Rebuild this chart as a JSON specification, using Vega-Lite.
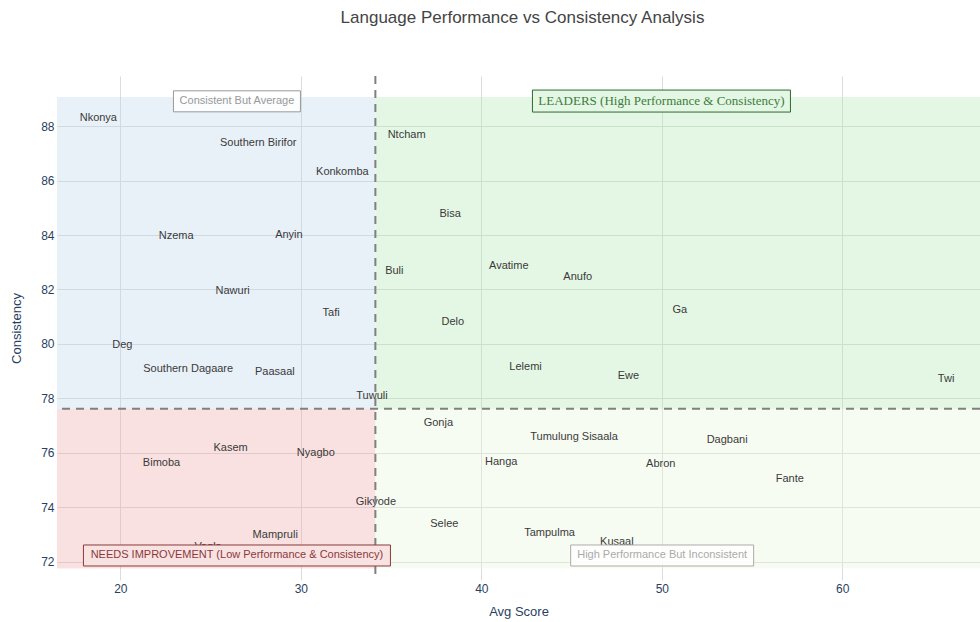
{
  "$schema": "https://vega.github.io/schema/vega-lite/v6.json",
  "width": 923,
  "height": 504,
  "autosize": {"type": "none"},
  "padding": {"left": 57, "top": 76, "right": 0, "bottom": 42},
  "background": "white",
  "title": {"text": "Language Performance vs Consistency Analysis", "font": "Liberation Sans", "fontSize": 17, "fontWeight": "normal", "color": "#444444", "anchor": "middle", "frame": "group", "offset": 48, "dx": 4},
  "config": {
    "view": {"stroke": null},
    "axis": {"grid": true, "gridColor": "#dcdcdc", "gridWidth": 1, "domain": false, "ticks": false, "labelFont": "Liberation Sans", "labelFontSize": 12, "labelColor": "#2a3f5f", "titleFont": "Liberation Sans", "titleFontSize": 13, "titleFontWeight": "normal", "titleColor": "#2a3f5f"}
  },
  "datasets": {
    "zones": [
      {"zone": "Consistent But Average", "x_min": 16.0, "x_max": 34.13, "y_min": 77.62, "y_max": 89.07},
      {"zone": "Leaders", "x_min": 34.13, "x_max": 68.5, "y_min": 77.62, "y_max": 89.07},
      {"zone": "Needs Improvement", "x_min": 16.0, "x_max": 34.13, "y_min": 71.75, "y_max": 77.62},
      {"zone": "High Performance But Inconsistent", "x_min": 34.13, "x_max": 68.5, "y_min": 71.75, "y_max": 77.62}
    ],
    "langs": [
      {"language": "Nkonya", "avg_score": 18.78, "consistency": 88.30},
      {"language": "Southern Birifor", "avg_score": 27.64, "consistency": 87.38},
      {"language": "Konkomba", "avg_score": 32.30, "consistency": 86.32},
      {"language": "Nzema", "avg_score": 23.09, "consistency": 83.98},
      {"language": "Anyin", "avg_score": 29.34, "consistency": 84.00},
      {"language": "Nawuri", "avg_score": 26.22, "consistency": 81.96},
      {"language": "Tafi", "avg_score": 31.68, "consistency": 81.12},
      {"language": "Deg", "avg_score": 20.11, "consistency": 79.96},
      {"language": "Southern Dagaare", "avg_score": 23.76, "consistency": 79.07},
      {"language": "Paasaal", "avg_score": 28.56, "consistency": 78.97},
      {"language": "Tuwuli", "avg_score": 33.94, "consistency": 78.07},
      {"language": "Ntcham", "avg_score": 35.86, "consistency": 87.67},
      {"language": "Bisa", "avg_score": 38.27, "consistency": 84.77},
      {"language": "Buli", "avg_score": 35.18, "consistency": 82.67},
      {"language": "Avatime", "avg_score": 41.52, "consistency": 82.88},
      {"language": "Anufo", "avg_score": 45.34, "consistency": 82.45},
      {"language": "Ga", "avg_score": 51.00, "consistency": 81.26},
      {"language": "Delo", "avg_score": 38.42, "consistency": 80.81},
      {"language": "Lelemi", "avg_score": 42.45, "consistency": 79.17},
      {"language": "Ewe", "avg_score": 48.15, "consistency": 78.83},
      {"language": "Twi", "avg_score": 65.75, "consistency": 78.73},
      {"language": "Kasem", "avg_score": 26.11, "consistency": 76.18},
      {"language": "Nyagbo", "avg_score": 30.83, "consistency": 75.98},
      {"language": "Bimoba", "avg_score": 22.28, "consistency": 75.64},
      {"language": "Gikyode", "avg_score": 34.16, "consistency": 74.19},
      {"language": "Mampruli", "avg_score": 28.58, "consistency": 73.00},
      {"language": "Vagla", "avg_score": 24.86, "consistency": 72.53},
      {"language": "Gonja", "avg_score": 37.62, "consistency": 77.11},
      {"language": "Tumulung Sisaala", "avg_score": 45.14, "consistency": 76.57},
      {"language": "Dagbani", "avg_score": 53.62, "consistency": 76.47},
      {"language": "Hanga", "avg_score": 41.10, "consistency": 75.66},
      {"language": "Abron", "avg_score": 49.94, "consistency": 75.58},
      {"language": "Fante", "avg_score": 57.09, "consistency": 75.04},
      {"language": "Selee", "avg_score": 37.95, "consistency": 73.39},
      {"language": "Tampulma", "avg_score": 43.78, "consistency": 73.06},
      {"language": "Kusaal", "avg_score": 47.51, "consistency": 72.73}
    ],
    "thresholds": [{"avg_threshold": 34.13, "consistency_threshold": 77.62}],
    "notes": [
      {"note": "Consistent But Average", "kind": "avg", "nx": 26.46, "ny": 88.91},
      {"note": "LEADERS (High Performance & Consistency)", "kind": "leaders", "nx": 49.98, "ny": 88.92},
      {"note": "NEEDS IMPROVEMENT (Low Performance & Consistency)", "kind": "needs", "nx": 26.46, "ny": 72.23},
      {"note": "High Performance But Inconsistent", "kind": "incons", "nx": 50.02, "ny": 72.23}
    ]
  },
  "layer": [
    {
      "data": {"name": "zones"},
      "mark": {"type": "rect", "clip": true, "opacity": 0.35},
      "encoding": {
        "x": {"field": "x_min", "type": "quantitative", "scale": {"domain": [16.49, 67.63], "nice": false, "zero": false}, "axis": {"title": "Avg Score", "values": [20, 30, 40, 50, 60], "labelPadding": 3, "titlePadding": 11}},
        "x2": {"field": "x_max"},
        "y": {"field": "y_min", "type": "quantitative", "scale": {"domain": [71.33, 89.84], "nice": false, "zero": false}, "axis": {"title": "Consistency", "values": [72, 74, 76, 78, 80, 82, 84, 86, 88], "labelPadding": 3, "titlePadding": 17}},
        "y2": {"field": "y_max"},
        "fill": {"field": "zone", "type": "nominal", "legend": null, "scale": {"domain": ["Consistent But Average", "Leaders", "Needs Improvement", "High Performance But Inconsistent"], "range": ["#c0d7eb", "#b2e8b2", "#eea9a9", "#e8f6da"]}}
      }
    },
    {
      "data": {"name": "langs"},
      "mark": {"type": "text", "font": "Liberation Sans", "fontSize": 11, "color": "#3a3a3a", "align": "center", "baseline": "middle"},
      "encoding": {
        "x": {"field": "avg_score", "type": "quantitative", "scale": {"domain": [16.49, 67.63], "nice": false, "zero": false}},
        "y": {"field": "consistency", "type": "quantitative", "scale": {"domain": [71.33, 89.84], "nice": false, "zero": false}},
        "text": {"field": "language"}
      }
    },
    {
      "data": {"name": "thresholds"},
      "mark": {"type": "rule", "color": "#808080", "strokeWidth": 2, "strokeDash": [8, 6]},
      "encoding": {
        "x": {"field": "avg_threshold", "type": "quantitative", "scale": {"domain": [16.49, 67.63], "nice": false, "zero": false}}
      }
    },
    {
      "data": {"name": "thresholds"},
      "mark": {"type": "rule", "color": "#808080", "strokeWidth": 2, "strokeDash": [8, 6]},
      "encoding": {
        "y": {"field": "consistency_threshold", "type": "quantitative", "scale": {"domain": [71.33, 89.84], "nice": false, "zero": false}}
      }
    },
    {
      "data": {"name": "notes"},
      "transform": [{"filter": "datum.kind === 'avg'"}],
      "layer": [
        {"mark": {"type": "rect", "width": 127, "height": 21, "fill": "#ffffff", "fillOpacity": 0.85, "stroke": "#999999", "strokeWidth": 1}},
        {"mark": {"type": "text", "font": "Liberation Sans", "fontSize": 11, "color": "#999999", "baseline": "middle"}, "encoding": {"text": {"field": "note"}}}
      ],
      "encoding": {
        "x": {"field": "nx", "type": "quantitative", "scale": {"domain": [16.49, 67.63], "nice": false, "zero": false}},
        "y": {"field": "ny", "type": "quantitative", "scale": {"domain": [71.33, 89.84], "nice": false, "zero": false}}
      }
    },
    {
      "data": {"name": "notes"},
      "transform": [{"filter": "datum.kind === 'leaders'"}],
      "layer": [
        {"mark": {"type": "rect", "width": 258, "height": 22, "fill": "#e4f6e4", "stroke": "#2e6b2e", "strokeWidth": 1}},
        {"mark": {"type": "text", "font": "Liberation Serif", "fontSize": 13, "color": "#3c7d3c", "baseline": "middle"}, "encoding": {"text": {"field": "note"}}}
      ],
      "encoding": {
        "x": {"field": "nx", "type": "quantitative", "scale": {"domain": [16.49, 67.63], "nice": false, "zero": false}},
        "y": {"field": "ny", "type": "quantitative", "scale": {"domain": [71.33, 89.84], "nice": false, "zero": false}}
      }
    },
    {
      "data": {"name": "notes"},
      "transform": [{"filter": "datum.kind === 'needs'"}],
      "layer": [
        {"mark": {"type": "rect", "width": 307, "height": 21, "fill": "#f8e2e2", "stroke": "#8b3a3a", "strokeWidth": 1}},
        {"mark": {"type": "text", "font": "Liberation Sans", "fontSize": 11, "color": "#8b3a3a", "baseline": "middle"}, "encoding": {"text": {"field": "note"}}}
      ],
      "encoding": {
        "x": {"field": "nx", "type": "quantitative", "scale": {"domain": [16.49, 67.63], "nice": false, "zero": false}},
        "y": {"field": "ny", "type": "quantitative", "scale": {"domain": [71.33, 89.84], "nice": false, "zero": false}}
      }
    },
    {
      "data": {"name": "notes"},
      "transform": [{"filter": "datum.kind === 'incons'"}],
      "layer": [
        {"mark": {"type": "rect", "width": 183, "height": 21, "fill": "#ffffff", "fillOpacity": 0.85, "stroke": "#aaaaaa", "strokeWidth": 1}},
        {"mark": {"type": "text", "font": "Liberation Sans", "fontSize": 11, "color": "#aaaaaa", "baseline": "middle"}, "encoding": {"text": {"field": "note"}}}
      ],
      "encoding": {
        "x": {"field": "nx", "type": "quantitative", "scale": {"domain": [16.49, 67.63], "nice": false, "zero": false}},
        "y": {"field": "ny", "type": "quantitative", "scale": {"domain": [71.33, 89.84], "nice": false, "zero": false}}
      }
    }
  ]
}
